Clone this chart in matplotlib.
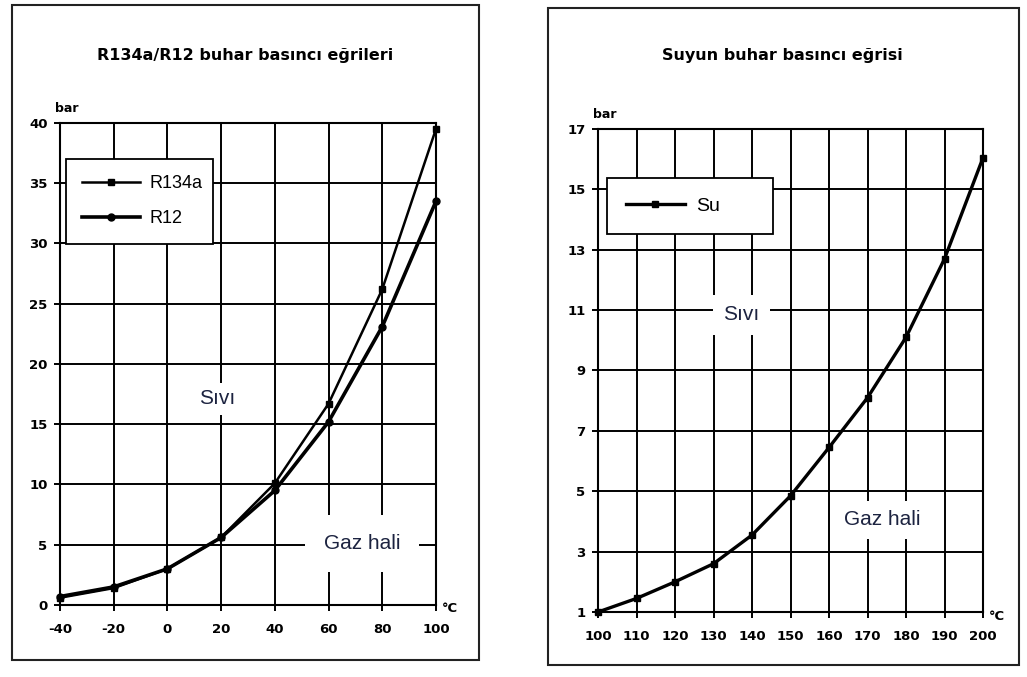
import matplotlib.pyplot as plt
from matplotlib.patches import Rectangle

# Sol grafik: R134a / R12 buhar basinci
sicaklik_sogutucu = [-40, -20, 0, 20, 40, 60, 80, 100]
basinc_r134a = [0.6, 1.4, 3.0, 5.6, 10.1, 16.7, 26.2, 39.5]
basinc_r12 = [0.7, 1.5, 3.0, 5.6, 9.5, 15.2, 23.1, 33.5]
x_ticks_sol = [-40, -20, 0, 20, 40, 60, 80, 100]
y_ticks_sol = [0, 5, 10, 15, 20, 25, 30, 35, 40]

# Sag grafik: suyun buhar basinci
sicaklik_su = [100, 110, 120, 130, 140, 150, 160, 170, 180, 190, 200]
basinc_su = [1.0, 1.45, 2.0, 2.6, 3.55, 4.85, 6.45, 8.1, 10.1, 12.7, 16.05]
x_ticks_sag = [100, 110, 120, 130, 140, 150, 160, 170, 180, 190, 200]
y_ticks_sag = [1, 3, 5, 7, 9, 11, 13, 15, 17]

yazi_rengi = '#1c2340'
etiket_font = ['Liberation Sans', 'DejaVu Sans']

plt.rcParams['axes.unicode_minus'] = False

fig = plt.figure(figsize=(10.27, 6.77), dpi=100)

# dis cerceveler
fig.patches.append(Rectangle((0.0117, 0.0251), 0.4547, 0.9675, transform=fig.transFigure,
                             fill=False, edgecolor='#222222', linewidth=1.5))
fig.patches.append(Rectangle((0.5336, 0.0177), 0.4586, 0.970, transform=fig.transFigure,
                             fill=False, edgecolor='#222222', linewidth=1.5))

ax1 = fig.add_axes([0.0584, 0.1064, 0.3661, 0.712])
ax2 = fig.add_axes([0.5823, 0.0960, 0.3749, 0.7135])


def eksen_duzenle(ax, xt, yt):
    ax.set_xlim(xt[0], xt[-1])
    ax.set_ylim(yt[0], yt[-1])
    ax.set_xticks(xt)
    ax.set_yticks(yt)
    ax.grid(True, color='black', linewidth=1.4)
    ax.set_axisbelow(True)
    for s in ax.spines.values():
        s.set_color('black')
        s.set_linewidth(1.5)
    ax.tick_params(axis='x', direction='out', length=4, width=1.4, pad=9)
    ax.tick_params(axis='y', direction='out', length=4, width=1.4, pad=5)
    for lab in ax.get_xticklabels() + ax.get_yticklabels():
        lab.set_fontweight('bold')
        lab.set_fontsize(9.5)
    ax.annotate('bar', xy=(0, 1), xycoords='axes fraction', xytext=(-5, 8),
                textcoords='offset pixels', ha='left', va='bottom',
                fontsize=9, fontweight='bold')
    ax.annotate('°C', xy=(1, 0), xycoords='axes fraction', xytext=(6, -4),
                textcoords='offset pixels', ha='left', va='center',
                fontsize=9.5, fontweight='bold')


eksen_duzenle(ax1, x_ticks_sol, y_ticks_sol)
eksen_duzenle(ax2, x_ticks_sag, y_ticks_sag)

ax1.plot(sicaklik_sogutucu, basinc_r134a, color='black', linewidth=1.8,
         marker='s', markersize=5, label='R134a', zorder=5, clip_on=False)
ax1.plot(sicaklik_sogutucu, basinc_r12, color='black', linewidth=2.6,
         marker='o', markersize=5, label='R12', zorder=5, clip_on=False)
ax2.plot(sicaklik_su, basinc_su, color='black', linewidth=2.4,
         marker='s', markersize=5, label='Su', zorder=5, clip_on=False)

leg1 = ax1.legend(loc='upper left', bbox_to_anchor=(0.016, 0.74, 0.391, 0.185),
                  mode='expand', borderaxespad=0, fancybox=False, framealpha=1,
                  edgecolor='black', prop={'family': etiket_font, 'size': 13},
                  handlelength=3.2, handletextpad=0.5, labelspacing=1.0,
                  borderpad=0.9, numpoints=1)
leg1.get_frame().set_linewidth(1.3)
leg2 = ax2.legend(loc='upper left', bbox_to_anchor=(0.023, 0.78, 0.431, 0.119),
                  mode='expand', borderaxespad=0, fancybox=False, framealpha=1,
                  edgecolor='black', prop={'family': etiket_font, 'size': 14},
                  handlelength=3.0, handletextpad=0.6, borderpad=1.0, numpoints=1)
leg2.get_frame().set_linewidth(1.3)

# faz etiketleri
ax1.text(18.4, 17.1, 'Sıvı', ha='center', va='center', fontsize=15, color=yazi_rengi,
         family=etiket_font, zorder=3,
         bbox=dict(boxstyle='square,pad=0.3', facecolor='white', edgecolor='none'))
ax1.text(72.5, 5.1, 'Gaz hali', ha='center', va='center', fontsize=15, color=yazi_rengi,
         family=etiket_font, zorder=3,
         bbox=dict(boxstyle='square,pad=0.9', facecolor='white', edgecolor='none'))
ax2.text(137.2, 10.85, 'Sıvı', ha='center', va='center', fontsize=15, color=yazi_rengi,
         family=etiket_font, zorder=3,
         bbox=dict(boxstyle='square,pad=0.5', facecolor='white', edgecolor='none'))
ax2.text(173.7, 4.05, 'Gaz hali', ha='center', va='center', fontsize=15, color=yazi_rengi,
         family=etiket_font, zorder=3,
         bbox=dict(boxstyle='square,pad=0.45', facecolor='white', edgecolor='none'))

fig.text(0.2386, 0.918, 'R134a/R12 buhar basıncı eğrileri', ha='center', va='center',
         fontsize=11.5, fontweight='bold')
fig.text(0.7615, 0.918, 'Suyun buhar basıncı eğrisi', ha='center', va='center',
         fontsize=11.5, fontweight='bold')

fig.savefig('out.png', dpi=100, facecolor='white')
